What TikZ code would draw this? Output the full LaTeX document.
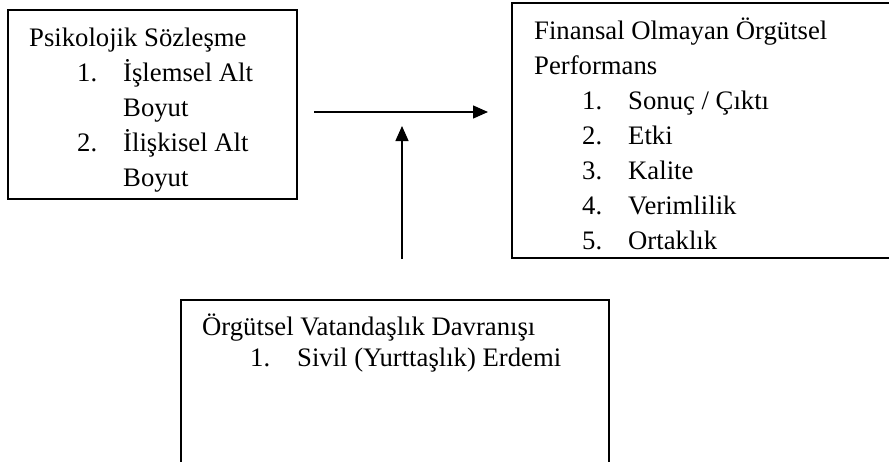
\documentclass[tikz,border=0pt]{standalone}
\usepackage{fontspec}
\setmainfont{Liberation Serif}
\usetikzlibrary{arrows.meta}
\begin{document}
\begin{tikzpicture}[x=1pt,y=-1pt,
  boxframe/.style={draw=black,line width=1.3pt},
  txt/.style={anchor=base west,inner sep=0pt,font=\fontsize{26.7}{32}\selectfont},
  conn/.style={line width=1.4pt,-{Triangle[length=15pt,width=13pt]}}]
\useasboundingbox (0,0) rectangle (889,461);
% boxes
\draw[boxframe] (8,10) rectangle (297,199);
\node[inner sep=0pt] (b1) at (152.5,104.5) {};
\draw[boxframe] (900,3) -- (512,3) -- (512,258) -- (900,258);
\node[inner sep=0pt] (b2) at (700,130) {};
\draw[boxframe] (181,470) -- (181,300) -- (609,300) -- (609,470);
\node[inner sep=0pt] (b3) at (395,380) {};
% box 1 text
\node[txt] (t1) at (29,46) {Psikolojik Sözleşme};
\node[txt] (t1n1) at (77,81) {1.};
\node[txt] (t1a) at (123,81) {İşlemsel Alt};
\node[txt] (t1b) at (123,116) {Boyut};
\node[txt] (t1n2) at (77,151) {2.};
\node[txt] (t1c) at (123,151) {İlişkisel Alt};
\node[txt] (t1d) at (123,186) {Boyut};
% box 2 text
\node[txt] (t2) at (534,39) {Finansal Olmayan Örgütsel};
\node[txt] (t2b) at (534,74) {Performans};
\node[txt] (t2n1) at (582,109) {1.};
\node[txt] (t2i1) at (628,109) {Sonuç / Çıktı};
\node[txt] (t2n2) at (582,144) {2.};
\node[txt] (t2i2) at (628,144) {Etki};
\node[txt] (t2n3) at (582,179) {3.};
\node[txt] (t2i3) at (628,179) {Kalite};
\node[txt] (t2n4) at (582,214) {4.};
\node[txt] (t2i4) at (628,214) {Verimlilik};
\node[txt] (t2n5) at (582,249) {5.};
\node[txt] (t2i5) at (628,249) {Ortaklık};
% box 3 text
\node[txt] (t3) at (202,335) {Örgütsel Vatandaşlık Davranışı};
\node[txt] (t3n1) at (250,366) {1.};
\node[txt] (t3i1) at (297,366) {Sivil (Yurttaşlık) Erdemi};
% connectors
\coordinate (h1) at (314,112);
\coordinate (h2) at (488,112);
\coordinate (v1) at (402,259);
\coordinate (v2) at (402,126);
\draw[conn] (h1) -- (h2);
\draw[conn] (v1) -- (v2);
\end{tikzpicture}
\end{document}
